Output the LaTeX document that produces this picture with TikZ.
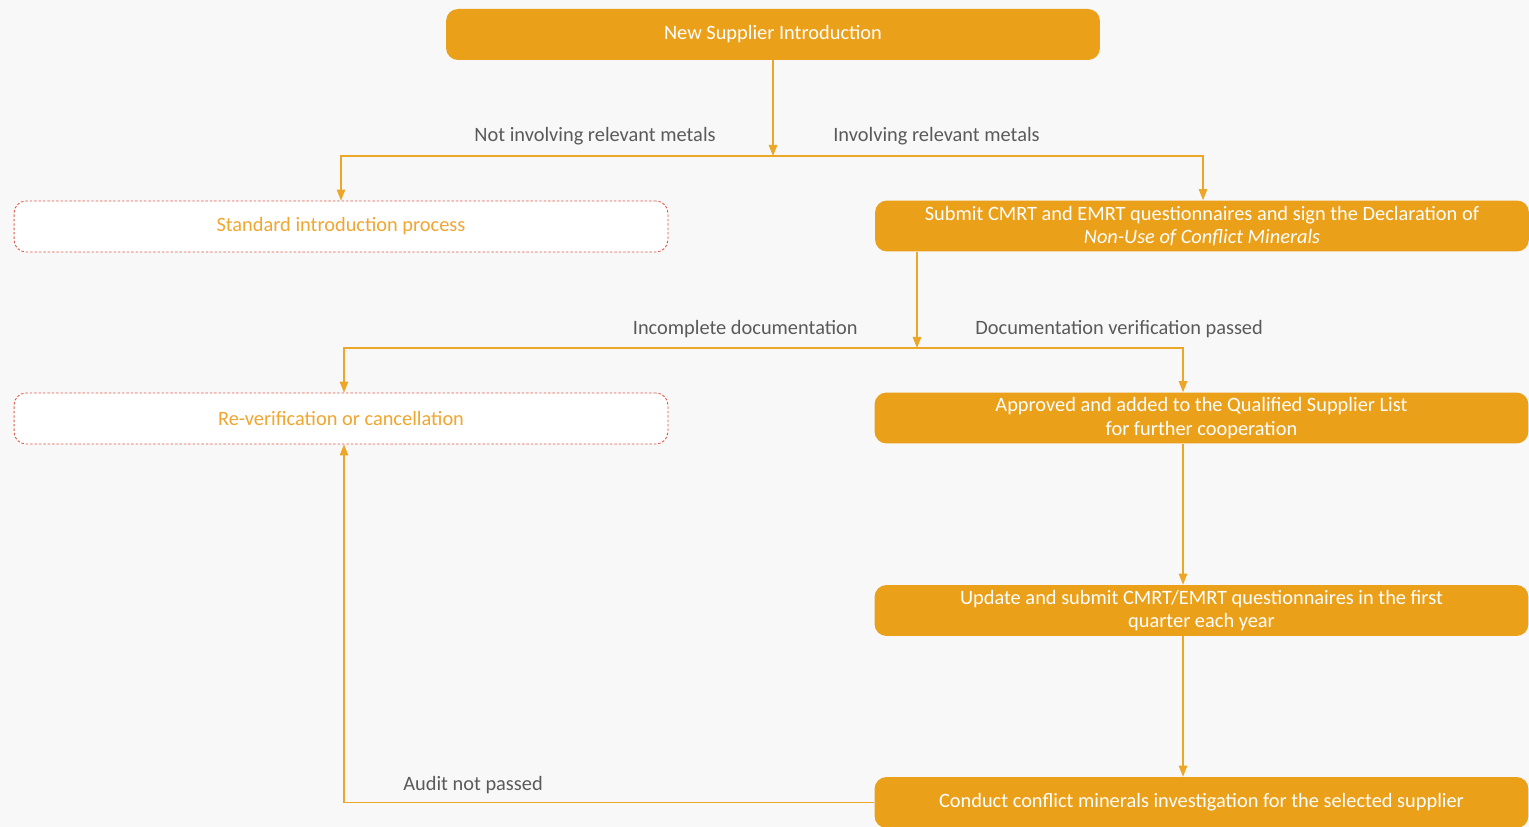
\documentclass[tikz,border=0pt]{standalone}
\usepackage{fontspec}
\setmainfont{Carlito}
\usetikzlibrary{arrows.meta, positioning, calc}

\definecolor{bgpaper}{HTML}{F7F8F7}
\definecolor{boxorange}{HTML}{EBA01A}
\definecolor{lineorange}{HTML}{EDA728}
\definecolor{dashred}{HTML}{E05A48}
\definecolor{softorange}{HTML}{F0A630}
\definecolor{labelgray}{HTML}{5A5A5A}

\begin{document}
\begin{tikzpicture}[
    x=0.02cm, y=-0.02cm,
    >={Triangle[length=0.22cm, width=0.17cm]},
    font=\fontsize{11.6}{13.2}\selectfont,
    stepbox/.style={draw=none, fill=boxorange, rounded corners=0.24cm,
      minimum width=13.08cm, minimum height=1.02cm, text=white,
      align=center, inner sep=0pt},
    altbox/.style={draw=dashred, dashed, dash pattern=on 1.4pt off 1.1pt,
      fill=white, rounded corners=0.24cm, line width=0.5pt,
      minimum width=13.08cm, minimum height=1.02cm, text=softorange,
      align=center, inner sep=0pt},
    flow/.style={draw=lineorange, line width=0.6pt},
    tag/.style={text=labelgray, inner sep=0pt}
  ]

  % paper and clip
  \fill[bgpaper] (0,0) rectangle (1529,827);
  \clip (0,0) rectangle (1529,827);

  % main column
  \node[stepbox] (intro) at (773,34.5) {New Supplier Introduction};
  \node[stepbox] (submit) at (1202,226)
    {Submit CMRT and EMRT questionnaires and sign the Declaration of\\
     \textit{Non-Use of Conflict Minerals}};
  \node[stepbox] (approved) at (1201.5,418)
    {Approved and added to the Qualified Supplier List\\
     for further cooperation};
  \node[stepbox] (update) at (1201.5,610.5)
    {Update and submit CMRT/EMRT questionnaires in the first\\
     quarter each year};
  \node[stepbox] (conduct) at (1201.5,802.5)
    {Conduct conflict minerals investigation for the selected supplier};

  % side outcomes
  \node[altbox] (standard) at (341,226.5) {Standard introduction process};
  \node[altbox] (reverify) at (341,418.5) {Re-verification or cancellation};

  % branch points
  \coordinate (split1) at (773,156);
  \coordinate (split2) at (917,348);
  \coordinate (colA) at (344,0);
  \coordinate (colB) at (1183,0);

  % branch labels
  \node[tag, anchor=east] (nometal) at (716,136) {Not involving relevant metals};
  \node[tag, anchor=west] (metal) at (833,136) {Involving relevant metals};
  \node[tag, anchor=east] (incomplete) at (858,329) {Incomplete documentation};
  \node[tag, anchor=west] (passed) at (975,329) {Documentation verification passed};
  \node[tag, anchor=west] (auditfail) at (403,785) {Audit not passed};

  \draw[flow, ->] (intro) -- (split1);
  \draw[flow, ->] (split1) -| (standard);
  \draw[flow, ->] (split1) -| (submit.north -| 1203,0);
  \draw[flow, ->] (submit.south -| split2) -- (split2);
  \draw[flow, ->] (split2) -| (reverify.north -| colA);
  \draw[flow, ->] (split2) -| (approved.north -| colB);
  \draw[flow, ->] (approved.south -| colB) -- (update.north -| colB);
  \draw[flow, ->] (update.south -| colB) -- (conduct.north -| colB);
  \draw[flow, ->] (conduct.west) -| (reverify.south -| colA);
\end{tikzpicture}
\end{document}
